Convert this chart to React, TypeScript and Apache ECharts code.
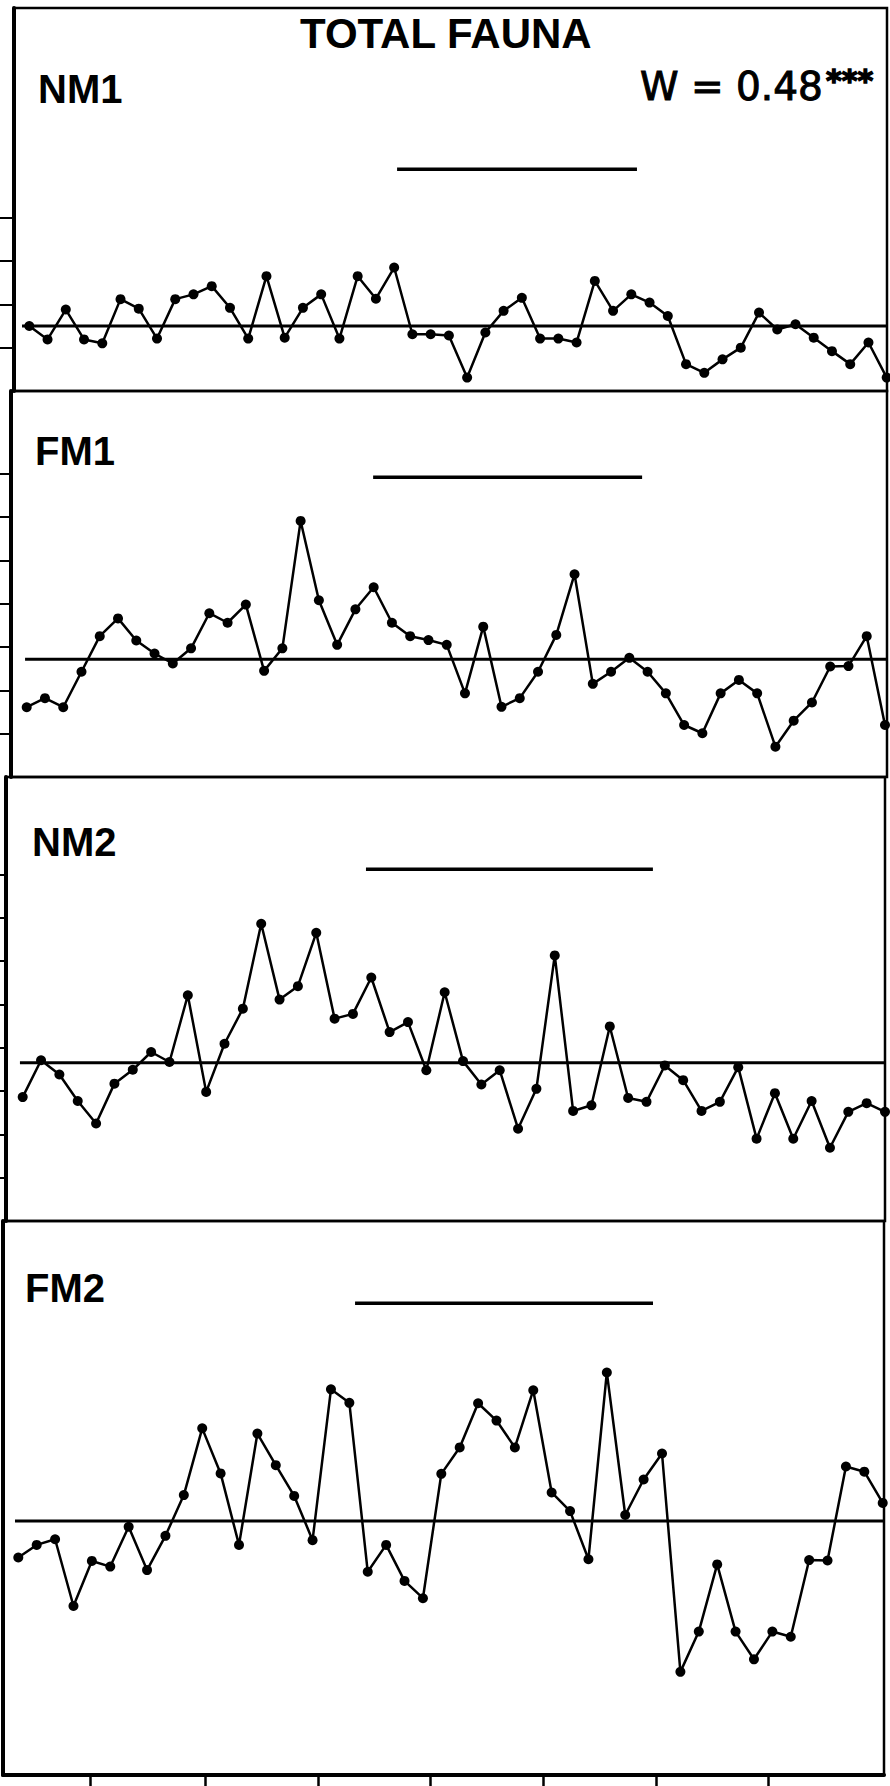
import React, { useEffect, useRef } from "react";
import * as echarts from "echarts";

// ---- data (y in arbitrary units, 10 units per left-axis tick) ----
const sampleIndex = Array.from({ length: 48 }, (_, i) => i + 1);

const nm1 = [
  15.0, 11.9, 18.8, 11.9, 11.0, 21.2, 19.0, 12.1, 21.2, 22.3, 24.2, 19.2,
  12.1, 26.5, 12.3, 19.2, 22.3, 12.1, 26.5, 21.3, 28.5, 13.1, 13.1, 12.8,
  3.1, 13.5, 18.5, 21.5, 12.1, 12.1, 11.2, 25.4, 18.5, 22.3, 20.4, 17.3,
  6.2, 4.2, 7.3, 10.0, 18.1, 14.2, 15.4, 12.3, 9.2, 6.2, 11.2, 3.1,
];
const fm1 = [
  16.1, 18.2, 16.1, 24.3, 32.5, 36.6, 31.5, 28.5, 26.2, 29.7, 37.8, 35.6,
  39.8, 24.5, 29.7, 59.1, 40.8, 30.5, 38.7, 43.8, 35.6, 32.5, 31.6, 30.5,
  19.3, 34.7, 16.2, 18.2, 24.3, 32.8, 46.8, 21.5, 24.3, 27.5, 24.3, 19.3,
  12.0, 10.1, 19.3, 22.4, 19.3, 7.0, 13.0, 17.2, 25.5, 25.6, 32.5, 12.0,
];
const nm2 = [
  28.6, 37.1, 33.8, 27.7, 22.5, 31.7, 34.9, 39.0, 36.7, 52.1, 29.8, 40.9,
  49.0, 68.6, 51.1, 54.2, 66.5, 46.7, 47.8, 56.2, 43.6, 45.9, 34.8, 52.8,
  36.9, 31.5, 34.8, 21.3, 30.5, 61.3, 25.4, 26.7, 44.9, 28.4, 27.5, 35.9,
  32.5, 25.4, 27.5, 35.5, 19.0, 29.5, 19.0, 27.7, 16.9, 25.2, 27.2, 25.2,
];
const fm2 = [
  50.2, 53.1, 54.4, 39.0, 49.4, 48.1, 57.3, 47.3, 55.2, 64.6, 80.0, 69.6,
  53.1, 78.8, 71.5, 64.4, 54.2, 89.0, 85.9, 46.9, 53.1, 44.8, 40.8, 69.5,
  75.6, 85.8, 81.8, 75.6, 88.8, 65.2, 60.9, 49.8, 92.9, 60.0, 68.2, 74.2,
  23.8, 33.1, 48.6, 33.1, 26.7, 33.1, 31.9, 49.6, 49.5, 71.2, 70.0, 62.8,
];

const panelSeries = [nm1, fm1, nm2, fm2];
const panelNames = ["NM1", "FM1", "NM2", "FM2"];
const panelMeans = [15.0, 27.2, 36.5, 58.6];
const periodStart = [21.16, 19.97, 19.71, 19.31];
const periodEnd = [34.31, 34.7, 35.35, 35.51];
const periodLevel = [51.2, 69.2, 81.2, 108.9];
const yTickValues = [
  [10, 20, 30, 40],
  [10, 20, 30, 40, 50, 60, 70],
  [10, 20, 30, 40, 50, 60, 70, 80],
  [],
];
const xTickValues = [4.9, 11.15, 17.3, 23.39, 29.53, 35.67, 41.76];
const titleText = "TOTAL FAUNA";
const statText = "W = 0.48";
const statStars = "***";

// ---- layout ----
const PX_PER_UNIT = 4.333;
const grids = [
  { left: 14, right: 3, top: 8, height: 383 },
  { left: 11, right: 3, top: 391, height: 386 },
  { left: 6, right: 5, top: 777, height: 444 },
  { left: 3, right: 6, top: 1221, height: 554 },
];
const xRanges = [
  [0.161, 48.016],
  [0.14, 48.11],
  [0.09, 48.0],
  [0.168, 48.07],
];
const meanStart = [0.6, 0.91, 0.85, 0.82];
const labelPos = [
  { x: 38, y: 89 },
  { x: 35, y: 451 },
  { x: 32, y: 842 },
  { x: 25, y: 1288 },
];

export default function App() {
  const ref = useRef<HTMLDivElement>(null);
  useEffect(() => {
    if (!ref.current) return;
    const chart = echarts.init(ref.current, undefined, { renderer: "svg" });

    const grid = grids.map((g) => ({
      ...g,
      show: true,
      borderColor: "#000",
      borderWidth: 2.5,
      backgroundColor: "transparent",
      containLabel: false,
    }));

    const xAxis = grids.map((g, k) => ({
      type: "value",
      gridIndex: k,
      min: xRanges[k][0],
      max: xRanges[k][1],
      axisLabel: { show: false },
      splitLine: { show: false },
      axisLine: { show: k === 3, onZero: false, lineStyle: { color: "#000", width: 4 } },
      axisTick:
        k === 3
          ? { show: true, customValues: xTickValues, length: 12, inside: false, lineStyle: { color: "#000", width: 2.5 } }
          : { show: false },
    }));

    const yAxis = grids.map((g, k) => ({
      type: "value",
      gridIndex: k,
      min: 0,
      max: g.height / PX_PER_UNIT,
      interval: 10,
      axisLabel: { show: false },
      splitLine: { show: false },
      axisLine: { show: true, onZero: false, lineStyle: { color: "#000", width: 4 } },
      axisTick:
        yTickValues[k].length > 0
          ? { show: true, customValues: yTickValues[k], length: g.left, inside: false, lineStyle: { color: "#000", width: 2 } }
          : { show: false },
    }));

    const series: any[] = [];
    panelSeries.forEach((vals, k) => {
      series.push({
        type: "line",
        xAxisIndex: k,
        yAxisIndex: k,
        data: vals.map((v, i) => [sampleIndex[i], v]),
        symbol: "circle",
        symbolSize: 10,
        showSymbol: true,
        lineStyle: { color: "#000", width: 2.5 },
        itemStyle: { color: "#000" },
        silent: true,
        z: 3,
      });
      series.push({
        type: "line",
        xAxisIndex: k,
        yAxisIndex: k,
        data: [
          [meanStart[k], panelMeans[k]],
          [xRanges[k][1], panelMeans[k]],
        ],
        symbol: "none",
        lineStyle: { color: "#000", width: 3 },
        silent: true,
        z: 2,
      });
      series.push({
        type: "line",
        xAxisIndex: k,
        yAxisIndex: k,
        data: [
          [periodStart[k], periodLevel[k]],
          [periodEnd[k], periodLevel[k]],
        ],
        symbol: "none",
        lineStyle: { color: "#000", width: 3.5 },
        silent: true,
        z: 2,
      });
    });

    const graphic: any[] = [
      {
        type: "text",
        x: 300,
        y: 33,
        style: {
          text: titleText,
          font: 'bold 42px "Liberation Sans", Arial, sans-serif',
          fill: "#000",
          align: "left",
          verticalAlign: "middle",
        },
      },
      {
        type: "text",
        x: 640,
        y: 86,
        style: {
          text: statText,
          font: '39px "DejaVu Sans", sans-serif',
          fill: "#000",
          stroke: "#000",
          lineWidth: 1,
          align: "left",
          verticalAlign: "middle",
        },
      },
      {
        type: "text",
        x: 826,
        y: 80,
        style: {
          text: statStars,
          font: 'bold 30px "DejaVu Sans", sans-serif',
          fill: "#000",
          stroke: "#000",
          lineWidth: 1.5,
          align: "left",
          verticalAlign: "middle",
        },
      },
      ...panelNames.map((name, k) => ({
        type: "text",
        x: labelPos[k].x,
        y: labelPos[k].y,
        style: {
          text: name,
          font: 'bold 40px "Liberation Sans", Arial, sans-serif',
          fill: "#000",
          align: "left",
          verticalAlign: "middle",
        },
      })),
    ];

    chart.setOption({
      animation: false,
      backgroundColor: "#fff",
      grid,
      xAxis,
      yAxis,
      series,
      graphic,
    });
    return () => chart.dispose();
  }, []);

  return (
    <div
      ref={ref}
      style={{ position: "absolute", left: 0, top: 0, width: 890, height: 1786, background: "#fff" }}
    />
  );
}
